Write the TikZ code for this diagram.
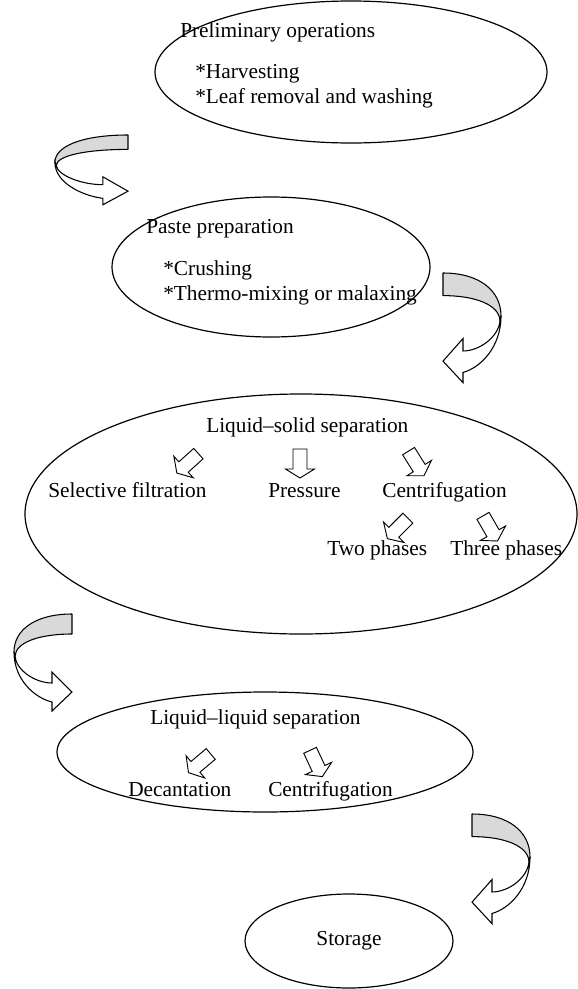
\documentclass[tikz,border=0pt]{standalone}
\usepackage{fontspec}
\setmainfont{Liberation Serif}
\usepackage{tikz}
\usetikzlibrary{shapes.geometric,positioning}
\definecolor{RibbonGray}{HTML}{D9D9D9}

\begin{document}
\begin{tikzpicture}[
  x=0.75pt,y=-0.75pt,
  every node/.style={font=\fontsize{16}{19}\selectfont,inner sep=0pt},
  stage/.style={draw,ellipse,line width=0.9pt},
  txt/.style={anchor=base west},
  % ribbon arrow turning round to the right
  turnarrow/.pic={
    \draw[line width=0.8pt,fill=RibbonGray,line join=round]
      (0,0) .. controls (-37,0) and (-58,16) .. (-58,38)
      -- (-57,42) .. controls (-56,28) and (-32,20) .. (0,20) -- cycle;
    \draw[line width=0.8pt,fill=white]
      (-58,38) .. controls (-58,66) and (-37,84) .. (-20,88)
      -- (-20,97) -- (0,78) -- (-20,58) -- (-20,69)
      .. controls (-37,69) and (-56,56) .. (-57,42) -- cycle;
  },
  % small hollow block arrow, pointing down
  downarrow/.pic={
    \draw[line width=0.7pt,fill=white]
      (-7,-14) -- (7,-14) -- (7,6) -- (14.5,6) -- (0,15)
      -- (-14.5,6) -- (-7,6) -- cycle;
  }
]
\useasboundingbox (0,0) rectangle (578,989);

% stages
\node[stage,minimum width=294pt,minimum height=106.5pt] (prelim) at (351,72) {};
\node[stage,minimum width=238.5pt,minimum height=105pt] (paste) at (271,267) {};
\node[stage,minimum width=414pt,minimum height=180pt] (lss) at (301,514) {};
\node[stage,minimum width=312pt,minimum height=90pt] (lls) at (265,752) {};
\node[stage,minimum width=156pt,minimum height=70.5pt] (storage) at (349,941) {Storage};

% texts inside the stages
\node[txt] (prelimT) at (180,37) {Preliminary operations};
\node[txt] (harv) at (195,78) {*Harvesting};
\node[txt] (leaf) at (195,103) {*Leaf removal and washing};

\node[txt] (pasteT) at (146,233) {Paste preparation};
\node[txt] (crush) at (163,275) {*Crushing};
\node[txt] (thermo) at (163,300) {*Thermo-mixing or malaxing};

\node[txt] (lssT) at (206,432) {Liquid--solid separation};
\node[txt] (filt) at (48,497) {Selective filtration};
\node[txt] (press) at (268,497) {Pressure};
\node[txt] (centA) at (382,497) {Centrifugation};
\node[txt] (two) at (327,555) {Two phases};
\node[txt] (three) at (450,555) {Three phases};

\node[txt] (llsT) at (150,724) {Liquid--liquid separation};
\node[txt] (decant) at (128,796) {Decantation};
\node[txt] (centB) at (268,796) {Centrifugation};

% small arrows
\pic[rotate=-48] at (188,463) {downarrow};
\pic at (300,463) {downarrow};
\pic[rotate=32] at (416,463) {downarrow};
\pic[rotate=-45] at (398,528) {downarrow};
\pic[rotate=30] at (490,528) {downarrow};
\pic[rotate=-50] at (200,763) {downarrow};
\pic[rotate=25] at (316,763) {downarrow};

% ribbon arrows between the stages
\pic[xscale=1.26,yscale=0.72] at (128,135) {turnarrow};
\pic[xscale=-1,yscale=1.13] at (443,273) {turnarrow};
\pic at (72,614) {turnarrow};
\pic[xscale=-1,yscale=1.13] at (472,814) {turnarrow};
\end{tikzpicture}
\end{document}
